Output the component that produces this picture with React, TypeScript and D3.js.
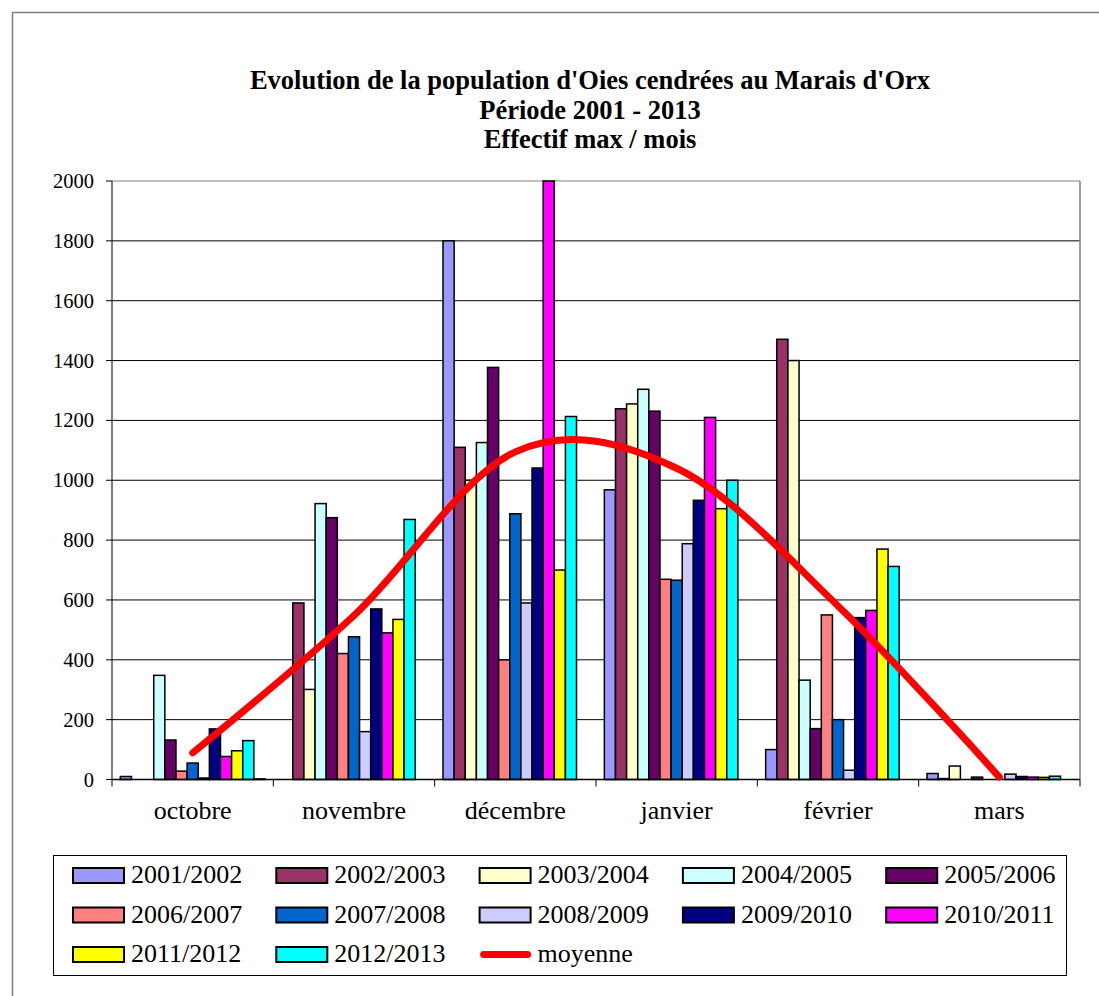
import React from "react";
import * as d3 from "d3";

const months = ["octobre", "novembre", "décembre", "janvier", "février", "mars"];

const seasons = [
  "2001/2002", "2002/2003", "2003/2004", "2004/2005", "2005/2006", "2006/2007",
  "2007/2008", "2008/2009", "2009/2010", "2010/2011", "2011/2012", "2012/2013",
];

const colors = [
  "#9999FF", "#993366", "#FFFFCC", "#CCFFFF", "#660066", "#FF8080",
  "#0066CC", "#CCCCFF", "#000080", "#FF00FF", "#FFFF00", "#00FFFF",
];

// values per season, in month order (octobre..mars)
const s2001 = [10, 0, 1800, 968, 100, 20];
const s2002 = [0, 590, 1110, 1239, 1471, 3];
const s2003 = [0, 301, 1000, 1255, 1400, 45];
const s2004 = [348, 922, 1126, 1304, 332, 0];
const s2005 = [132, 875, 1377, 1231, 170, 8];
const s2006 = [28, 421, 400, 669, 550, 0];
const s2007 = [55, 477, 888, 666, 200, 0];
const s2008 = [5, 160, 590, 788, 31, 18];
const s2009 = [169, 570, 1041, 933, 541, 10];
const s2010 = [77, 490, 2000, 1210, 565, 8];
const s2011 = [96, 535, 700, 905, 770, 7];
const s2012 = [130, 869, 1213, 1000, 712, 11];
// 13th (unnamed) series slot present in the original chart
const sExtra = [2, 0, 0, 0, 0, 0];

const seriesValues = [s2001, s2002, s2003, s2004, s2005, s2006, s2007, s2008, s2009, s2010, s2011, s2012];

const moyenne = [89, 548, 1095, 1040, 580, 8];

const yTicks = [0, 200, 400, 600, 800, 1000, 1200, 1400, 1600, 1800, 2000];

const titleLines = [
  "Evolution de la population d'Oies cendrées au Marais d'Orx",
  "Période 2001 - 2013",
  "Effectif max / mois",
];

const FONT = "'Liberation Serif', 'Times New Roman', Times, serif";

export default function App() {
  const W = 1099;
  const H = 996;
  const left = 112;
  const right = 1080;
  const top = 181;
  const bottom = 779.5;

  const x0 = d3.scaleBand<string>().domain(months).range([left, right]).paddingInner(0).paddingOuter(0);
  const slots = [...seasons, "extra"];
  const x1 = d3
    .scaleBand<string>()
    .domain(slots)
    .range([0, x0.bandwidth()])
    .paddingInner(0)
    .paddingOuter(0.75);
  const y = d3.scaleLinear().domain([0, 2000]).range([bottom, top]);

  const allSeries = [
    ...seriesValues.map((v, i) => ({ key: seasons[i], values: v, color: colors[i] })),
    { key: "extra", values: sExtra, color: "#000000" },
  ];

  const line = d3
    .line<number>()
    .x((_, i) => (x0(months[i]) as number) + x0.bandwidth() / 2)
    .y((d) => y(d))
    .curve(d3.curveCardinal.tension(0));

  const boundaries = [...months.map((m) => x0(m) as number), right];

  // legend layout
  const legX = 53;
  const legY = 855;
  const legW = 1013;
  const legH = 120;
  const colStep = 203.3;
  const rowBase = [883, 922.5, 962];
  const legendItems: { label: string; color: string | null }[] = [
    ...seasons.map((s, i) => ({ label: s, color: colors[i] })),
    { label: "moyenne", color: null },
  ];

  const txt = { fontFamily: FONT };

  return (
    <svg
      width={W}
      height={H}
      style={{ position: "absolute", left: 0, top: 0, background: "#fff", fontFamily: FONT }}
    >
      <rect x={0} y={0} width={W} height={H} fill="#fff" />
      {/* outer chart border */}
      <rect x={12.5} y={12.5} width={1110} height={1010} fill="none" stroke="#7f7f7f" strokeWidth={1.5} />

      {/* title */}
      {titleLines.map((t, i) => (
        <text
          key={i}
          x={590}
          y={89 + i * 29.5}
          textAnchor="middle"
          fontWeight="bold"
          fontSize={26.5}
          fill="#000"
          style={txt}
        >
          {t}
        </text>
      ))}

      {/* gridlines */}
      {yTicks.map((t) =>
        t === 0 ? null : (
          <line
            key={t}
            x1={left}
            x2={right}
            y1={y(t)}
            y2={y(t)}
            stroke={t === 2000 ? "#808080" : "#000"}
            strokeWidth={1}
          />
        )
      )}
      {/* plot area right border */}
      <line x1={right} x2={right} y1={top} y2={bottom} stroke="#808080" strokeWidth={1.5} />

      {/* bars */}
      {months.map((m, mi) => (
        <g key={m} transform={`translate(${x0(m)},0)`}>
          {allSeries.map((s) => {
            const v = s.values[mi];
            if (!v) return null;
            return (
              <rect
                key={s.key}
                x={x1(s.key)}
                y={y(v)}
                width={x1.bandwidth()}
                height={bottom - y(v)}
                fill={s.color}
                stroke="#000"
                strokeWidth={1.5}
              />
            );
          })}
        </g>
      ))}

      {/* axes */}
      <line x1={left} x2={left} y1={top} y2={bottom} stroke="#000" strokeWidth={1} />
      <line x1={left} x2={right} y1={bottom} y2={bottom} stroke="#000" strokeWidth={1.5} />
      {yTicks.map((t) => (
        <g key={t}>
          <line x1={left - 6} x2={left} y1={y(t)} y2={y(t)} stroke="#000" />
          <text x={94} y={y(t) + 7} textAnchor="end" fontSize={20.5} fill="#000" style={txt}>
            {t}
          </text>
        </g>
      ))}
      {boundaries.map((bx, i) => (
        <line key={i} x1={bx} x2={bx} y1={bottom} y2={bottom + 7} stroke="#000" />
      ))}
      {months.map((m) => (
        <text
          key={m}
          x={(x0(m) as number) + x0.bandwidth() / 2}
          y={819}
          textAnchor="middle"
          fontSize={26}
          fill="#000"
          style={txt}
        >
          {m}
        </text>
      ))}

      {/* moyenne */}
      <path
        d={line(moyenne) || ""}
        fill="none"
        stroke="#FF0000"
        strokeWidth={7}
        strokeLinecap="round"
        strokeLinejoin="round"
      />

      {/* legend */}
      <rect x={legX + 0.5} y={legY + 0.5} width={legW} height={legH} fill="#fff" stroke="#000" strokeWidth={1} />
      {legendItems.map((it, i) => {
        const col = i % 5;
        const row = Math.floor(i / 5);
        const sx = 73 + col * colStep;
        const base = rowBase[row];
        return (
          <g key={it.label}>
            {it.color ? (
              <rect x={sx} y={base - 15} width={51} height={15} fill={it.color} stroke="#000" strokeWidth={2} />
            ) : (
              <line
                x1={sx + 4}
                x2={sx + 48}
                y1={base - 7.5}
                y2={base - 7.5}
                stroke="#FF0000"
                strokeWidth={7}
                strokeLinecap="round"
              />
            )}
            <text x={sx + 58} y={base} fontSize={26} fill="#000" style={txt}>
              {it.label}
            </text>
          </g>
        );
      })}
    </svg>
  );
}
